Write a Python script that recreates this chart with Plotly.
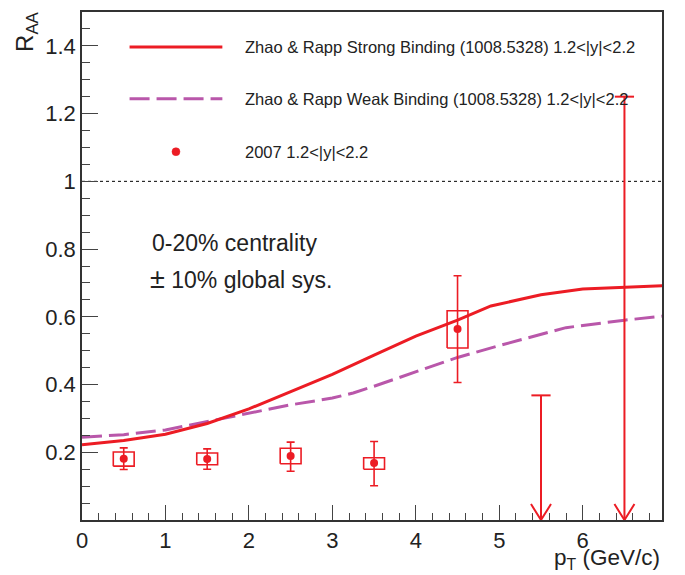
import plotly.graph_objects as go

# ---------------- data ----------------
pt = [0.5, 1.5, 2.5, 3.5, 4.5]
raa = [0.181, 0.180, 0.189, 0.168, 0.564]
stat_hi = [0.213, 0.210, 0.230, 0.232, 0.721]
stat_lo = [0.149, 0.150, 0.144, 0.101, 0.406]
sys_hi = [0.201, 0.198, 0.212, 0.184, 0.618]
sys_lo = [0.159, 0.163, 0.166, 0.150, 0.508]

limit_pt = [5.5, 6.5]
limit_raa = [0.368, 1.25]

strong_x = [0.0, 0.5, 1.0, 1.5, 2.0, 2.5, 3.0, 3.5, 4.0, 4.5, 4.9, 5.5, 6.0, 7.0]
strong_y = [0.222, 0.235, 0.253, 0.285, 0.328, 0.378, 0.430, 0.487, 0.543, 0.590, 0.632, 0.665, 0.682, 0.692]

weak_x = [0.0, 0.5, 1.0, 1.5, 2.0, 2.5, 3.0, 3.25, 3.5, 4.0, 4.5, 5.0, 5.5, 5.8, 6.5, 7.0]
weak_y = [0.244, 0.252, 0.266, 0.290, 0.316, 0.340, 0.360, 0.375, 0.395, 0.437, 0.480, 0.515, 0.548, 0.568, 0.590, 0.603]

x_ticks = [0, 1, 2, 3, 4, 5, 6]
y_ticks = [0.2, 0.4, 0.6, 0.8, 1.0, 1.2, 1.4]
y_ticktext = ["0.2", "0.4", "0.6", "0.8", "1", "1.2", "1.4"]

legend_labels = [
    "Zhao & Rapp Strong Binding (1008.5328) 1.2<|y|<2.2",
    "Zhao & Rapp Weak Binding (1008.5328) 1.2<|y|<2.2",
    "2007 1.2<|y|<2.2",
]

# ---------------- style ----------------
RED = "#ec1c24"
PURPLE = "#b957aa"
FONT = "Liberation Sans, Arial, Helvetica, sans-serif"
XMAX = 6.95
YMAX = 1.5
BOX_HW = 0.125      # half width of systematic boxes (data units)
CAP_HW = 0.115      # half width of upper-limit caps
ARR_HW = 0.12       # arrow head half width
ARR_H = 0.047       # arrow head height

fig = go.Figure()

# reference line at 1
fig.add_trace(go.Scatter(x=[0, XMAX], y=[1, 1], mode="lines",
                         line=dict(color="black", width=1, dash="3px,3px"),
                         hoverinfo="skip", showlegend=False))

# theory curves
fig.add_trace(go.Scatter(x=weak_x, y=weak_y, mode="lines",
                         line=dict(color=PURPLE, width=3, dash="20px,7px"),
                         showlegend=False))
fig.add_trace(go.Scatter(x=strong_x, y=strong_y, mode="lines",
                         line=dict(color=RED, width=3), showlegend=False))

# systematic boxes
bx, by = [], []
for x, lo, hi in zip(pt, sys_lo, sys_hi):
    bx += [x - BOX_HW, x + BOX_HW, x + BOX_HW, x - BOX_HW, x - BOX_HW, None]
    by += [lo, lo, hi, hi, lo, None]
fig.add_trace(go.Scatter(x=bx, y=by, mode="lines",
                         line=dict(color=RED, width=1.6), showlegend=False))

# data points with stat errors
fig.add_trace(go.Scatter(
    x=pt, y=raa, mode="markers",
    marker=dict(color=RED, size=8),
    error_y=dict(type="data", symmetric=False,
                 array=[h - v for h, v in zip(stat_hi, raa)],
                 arrayminus=[v - l for l, v in zip(stat_lo, raa)],
                 color=RED, thickness=1.6, width=4),
    showlegend=False))

# upper limits
ux, uy = [], []
for x, lim in zip(limit_pt, limit_raa):
    ux += [x, x, None, x - CAP_HW, x + CAP_HW, None, x - ARR_HW, x, x + ARR_HW, None]
    uy += [lim, 0, None, lim, lim, None, ARR_H, 0, ARR_H, None]
fig.add_trace(go.Scatter(x=ux, y=uy, mode="lines",
                         line=dict(color=RED, width=2), showlegend=False))

# ---------------- manual legend (domain coordinates) ----------------
leg_x0, leg_x1, leg_mx, leg_tx = 0.082, 0.242, 0.162, 0.277
leg_rows = [0.931, 0.829, 0.725]
fig.add_shape(type="line", xref="x domain", yref="y domain",
              x0=leg_x0, x1=leg_x1, y0=leg_rows[0], y1=leg_rows[0],
              line=dict(color=RED, width=3))
fig.add_shape(type="line", xref="x domain", yref="y domain",
              x0=leg_x0, x1=leg_x1, y0=leg_rows[1], y1=leg_rows[1],
              line=dict(color=PURPLE, width=3, dash="20px,7px"))
fig.add_shape(type="circle", xref="x domain", yref="y domain",
              xsizemode="pixel", ysizemode="pixel",
              xanchor=leg_mx, yanchor=leg_rows[2],
              x0=-4, x1=4, y0=-4, y1=4,
              fillcolor=RED, line=dict(color=RED, width=0.5))
for row, lab in zip(leg_rows, legend_labels):
    fig.add_annotation(xref="x domain", yref="y domain", x=leg_tx, y=row,
                       text=lab, showarrow=False, xanchor="left", yanchor="middle",
                       font=dict(family=FONT, size=16.5, color="#222"))

# text notes
fig.add_annotation(xref="x domain", yref="y domain", x=0.118, y=0.545,
                   text="0-20% centrality", showarrow=False,
                   xanchor="left", yanchor="middle",
                   font=dict(family=FONT, size=23, color="#222"))
fig.add_annotation(xref="x domain", yref="y domain", x=0.113, y=0.4745,
                   text="<span style='font-size:27px'>±</span> 10% global sys.",
                   showarrow=False, xanchor="left", yanchor="middle",
                   font=dict(family=FONT, size=23, color="#222"))

# axis titles
fig.add_annotation(xref="paper", yref="paper", x=-0.125, y=1.005,
                   text="R<sub>AA</sub>", textangle=-90, showarrow=False,
                   xanchor="left", yanchor="top",
                   font=dict(family=FONT, size=24, color="#222"))
fig.add_annotation(xref="paper", yref="paper", x=1.0, y=-0.046,
                   text="p<sub>T</sub> (GeV/c)", showarrow=False,
                   xanchor="right", yanchor="top",
                   font=dict(family=FONT, size=22.5, color="#222"))

axis_common = dict(showgrid=False, zeroline=False, ticks="inside",
                   showline=True, linecolor="#333", linewidth=1.5, mirror=True,
                   tickcolor="#444", tickwidth=1.3,
                   tickfont=dict(family=FONT, size=22, color="#222"))

fig.update_xaxes(range=[0, XMAX], tickvals=x_ticks, ticklen=15,
                 minor=dict(dtick=0.2, ticks="inside", ticklen=7,
                            tickcolor="#444", tickwidth=1.3),
                 **axis_common)
fig.update_yaxes(range=[0, YMAX], tickvals=y_ticks, ticktext=y_ticktext, ticklen=16,
                 minor=dict(dtick=0.05, ticks="inside", ticklen=8,
                            tickcolor="#444", tickwidth=1.3),
                 **axis_common)

fig.update_layout(width=685, height=575,
                  margin=dict(l=82, r=23, t=10, b=55),
                  paper_bgcolor="white", plot_bgcolor="white",
                  showlegend=False)

fig.write_html("out.html")
